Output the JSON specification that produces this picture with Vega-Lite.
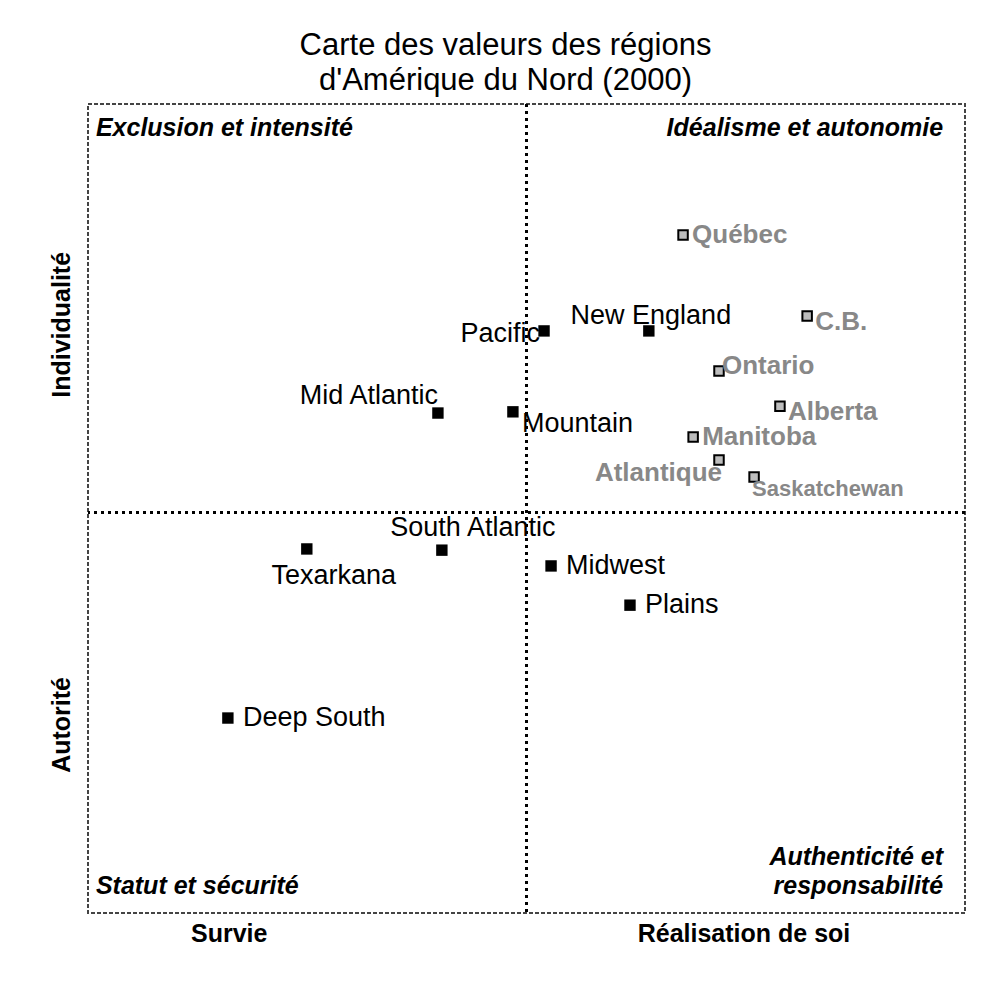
{
  "$schema": "https://vega.github.io/schema/vega-lite/v6.json",
  "width": 877,
  "height": 809,
  "autosize": {"type": "none"},
  "padding": {"left": 88, "top": 104, "right": 25, "bottom": 72},
  "background": "white",
  "title": {
    "text": ["Carte des valeurs des régions", "d'Amérique du Nord (2000)"],
    "anchor": "middle",
    "dx": -21,
    "offset": 6,
    "font": "Liberation Sans",
    "fontSize": 31,
    "fontWeight": "normal",
    "lineHeight": 35,
    "color": "black"
  },
  "config": {
    "view": {"stroke": "#444", "strokeDash": [4, 2], "strokeWidth": 2},
    "text": {"font": "Liberation Sans"}
  },
  "datasets": {
    "pts": [
      {"name": "Pacific", "x": 4.0, "y": 44.9, "group": "US"},
      {"name": "New England", "x": 27.9, "y": 44.9, "group": "US"},
      {"name": "Mid Atlantic", "x": -20.2, "y": 24.6, "group": "US"},
      {"name": "Mountain", "x": -3.1, "y": 24.9, "group": "US"},
      {"name": "South Atlantic", "x": -19.3, "y": -9.3, "group": "US"},
      {"name": "Texarkana", "x": -50.1, "y": -9.0, "group": "US"},
      {"name": "Midwest", "x": 5.6, "y": -13.2, "group": "US"},
      {"name": "Plains", "x": 23.6, "y": -22.9, "group": "US"},
      {"name": "Deep South", "x": -68.1, "y": -50.8, "group": "US"},
      {"name": "Québec", "x": 35.7, "y": 68.6, "group": "CA"},
      {"name": "C.B.", "x": 64.0, "y": 48.6, "group": "CA"},
      {"name": "Ontario", "x": 43.9, "y": 35.0, "group": "CA"},
      {"name": "Alberta", "x": 57.8, "y": 26.3, "group": "CA"},
      {"name": "Manitoba", "x": 38.0, "y": 18.7, "group": "CA"},
      {"name": "Atlantique", "x": 43.9, "y": 13.0, "group": "CA"},
      {"name": "Saskatchewan", "x": 51.9, "y": 8.8, "group": "CA"}
    ],
    "quad": [
      {"label": "Exclusion et intensité", "x": -98.2, "y": 95.1, "side": "L"},
      {"label": "Statut et sécurité", "x": -98.2, "y": -92.3, "side": "L"},
      {"label": "Idéalisme et autonomie", "x": 95.0, "y": 95.1, "side": "R"},
      {"label": "Authenticité et", "x": 95.0, "y": -85.2, "side": "R"},
      {"label": "responsabilité", "x": 95.0, "y": -92.3, "side": "R"}
    ],
    "axes": [
      {"label": "Survie", "x": -67.8, "y": -104.2, "dir": "h"},
      {"label": "Réalisation de soi", "x": 49.6, "y": -104.2, "dir": "h"},
      {"label": "Individualité", "x": -105.9, "y": 46.4, "dir": "v"},
      {"label": "Autorité", "x": -105.9, "y": -52.5, "dir": "v"}
    ]
  },
  "data": {"name": "pts"},
  "layer": [
    {
      "mark": {"type": "rule", "strokeDash": [3, 4], "strokeWidth": 2, "color": "black"},
      "encoding": {
        "x": {"datum": 0, "type": "quantitative", "scale": {"domain": [-100, 100], "nice": false, "zero": false}, "axis": null}
      }
    },
    {
      "mark": {"type": "rule", "strokeDash": [3, 4], "strokeWidth": 2, "color": "black"},
      "encoding": {
        "y": {"datum": 0, "type": "quantitative", "scale": {"domain": [-99, 101], "nice": false, "zero": false}, "axis": null}
      }
    },
    {
      "transform": [{"filter": "datum.group == 'US'"}],
      "mark": {"type": "square", "filled": true, "color": "black", "size": 130, "opacity": 1},
      "encoding": {
        "x": {"field": "x", "type": "quantitative", "axis": null},
        "y": {"field": "y", "type": "quantitative", "axis": null}
      }
    },
    {
      "transform": [{"filter": "datum.group == 'CA'"}],
      "mark": {"type": "square", "filled": true, "fill": "#bdbdbd", "stroke": "black", "strokeWidth": 2, "size": 90, "opacity": 1},
      "encoding": {
        "x": {"field": "x", "type": "quantitative", "axis": null},
        "y": {"field": "y", "type": "quantitative", "axis": null}
      }
    },
    {
      "transform": [{"filter": "indexof(['Midwest','Plains','Deep South'], datum.name) >= 0"}],
      "mark": {"type": "text", "align": "left", "baseline": "middle", "dx": 15, "fontSize": 27, "color": "black"},
      "encoding": {
        "x": {"field": "x", "type": "quantitative", "axis": null},
        "y": {"field": "y", "type": "quantitative", "axis": null},
        "text": {"field": "name"}
      }
    },
    {
      "transform": [{"filter": "datum.name == 'Mountain'"}],
      "mark": {"type": "text", "align": "left", "baseline": "middle", "dx": 9, "dy": 12, "fontSize": 27, "color": "black"},
      "encoding": {
        "x": {"field": "x", "type": "quantitative", "axis": null},
        "y": {"field": "y", "type": "quantitative", "axis": null},
        "text": {"field": "name"}
      }
    },
    {
      "transform": [{"filter": "datum.name == 'Pacific'"}],
      "mark": {"type": "text", "align": "right", "baseline": "middle", "dx": -4, "dy": 3, "fontSize": 27, "color": "black"},
      "encoding": {
        "x": {"field": "x", "type": "quantitative", "axis": null},
        "y": {"field": "y", "type": "quantitative", "axis": null},
        "text": {"field": "name"}
      }
    },
    {
      "transform": [{"filter": "datum.name == 'New England'"}],
      "mark": {"type": "text", "align": "center", "baseline": "middle", "dx": 2, "dy": -15, "fontSize": 27, "color": "black"},
      "encoding": {
        "x": {"field": "x", "type": "quantitative", "axis": null},
        "y": {"field": "y", "type": "quantitative", "axis": null},
        "text": {"field": "name"}
      }
    },
    {
      "transform": [{"filter": "datum.name == 'Mid Atlantic'"}],
      "mark": {"type": "text", "align": "right", "baseline": "middle", "dx": 0, "dy": -17, "fontSize": 27, "color": "black"},
      "encoding": {
        "x": {"field": "x", "type": "quantitative", "axis": null},
        "y": {"field": "y", "type": "quantitative", "axis": null},
        "text": {"field": "name"}
      }
    },
    {
      "transform": [{"filter": "datum.name == 'South Atlantic'"}],
      "mark": {"type": "text", "align": "center", "baseline": "middle", "dx": 31, "dy": -22, "fontSize": 27, "color": "black"},
      "encoding": {
        "x": {"field": "x", "type": "quantitative", "axis": null},
        "y": {"field": "y", "type": "quantitative", "axis": null},
        "text": {"field": "name"}
      }
    },
    {
      "transform": [{"filter": "datum.name == 'Texarkana'"}],
      "mark": {"type": "text", "align": "center", "baseline": "middle", "dx": 27, "dy": 27, "fontSize": 27, "color": "black"},
      "encoding": {
        "x": {"field": "x", "type": "quantitative", "axis": null},
        "y": {"field": "y", "type": "quantitative", "axis": null},
        "text": {"field": "name"}
      }
    },
    {
      "transform": [{"filter": "indexof(['Québec','Manitoba'], datum.name) >= 0"}],
      "mark": {"type": "text", "align": "left", "baseline": "middle", "dx": 9, "fontSize": 26, "fontWeight": "bold", "color": "#888888"},
      "encoding": {
        "x": {"field": "x", "type": "quantitative", "axis": null},
        "y": {"field": "y", "type": "quantitative", "axis": null},
        "text": {"field": "name"}
      }
    },
    {
      "transform": [{"filter": "indexof(['C.B.','Alberta'], datum.name) >= 0"}],
      "mark": {"type": "text", "align": "left", "baseline": "middle", "dx": 8, "dy": 6, "fontSize": 26, "fontWeight": "bold", "color": "#888888"},
      "encoding": {
        "x": {"field": "x", "type": "quantitative", "axis": null},
        "y": {"field": "y", "type": "quantitative", "axis": null},
        "text": {"field": "name"}
      }
    },
    {
      "transform": [{"filter": "datum.name == 'Ontario'"}],
      "mark": {"type": "text", "align": "left", "baseline": "middle", "dx": 3, "dy": -5, "fontSize": 26, "fontWeight": "bold", "color": "#888888"},
      "encoding": {
        "x": {"field": "x", "type": "quantitative", "axis": null},
        "y": {"field": "y", "type": "quantitative", "axis": null},
        "text": {"field": "name"}
      }
    },
    {
      "transform": [{"filter": "datum.name == 'Atlantique'"}],
      "mark": {"type": "text", "align": "right", "baseline": "middle", "dx": 3, "dy": 13, "fontSize": 26, "fontWeight": "bold", "color": "#888888"},
      "encoding": {
        "x": {"field": "x", "type": "quantitative", "axis": null},
        "y": {"field": "y", "type": "quantitative", "axis": null},
        "text": {"field": "name"}
      }
    },
    {
      "transform": [{"filter": "datum.name == 'Saskatchewan'"}],
      "mark": {"type": "text", "align": "left", "baseline": "middle", "dx": -2, "dy": 12, "fontSize": 22, "fontWeight": "bold", "color": "#888888"},
      "encoding": {
        "x": {"field": "x", "type": "quantitative", "axis": null},
        "y": {"field": "y", "type": "quantitative", "axis": null},
        "text": {"field": "name"}
      }
    },
    {
      "data": {"name": "quad"},
      "transform": [{"filter": "datum.side == 'L'"}],
      "mark": {"type": "text", "align": "left", "baseline": "middle", "fontSize": 25, "fontWeight": "bold", "fontStyle": "italic", "color": "black"},
      "encoding": {
        "x": {"field": "x", "type": "quantitative", "axis": null},
        "y": {"field": "y", "type": "quantitative", "axis": null},
        "text": {"field": "label"}
      }
    },
    {
      "data": {"name": "quad"},
      "transform": [{"filter": "datum.side == 'R'"}],
      "mark": {"type": "text", "align": "right", "baseline": "middle", "fontSize": 25, "fontWeight": "bold", "fontStyle": "italic", "color": "black"},
      "encoding": {
        "x": {"field": "x", "type": "quantitative", "axis": null},
        "y": {"field": "y", "type": "quantitative", "axis": null},
        "text": {"field": "label"}
      }
    },
    {
      "data": {"name": "axes"},
      "transform": [{"filter": "datum.dir == 'h'"}],
      "mark": {"type": "text", "align": "center", "baseline": "middle", "fontSize": 25, "fontWeight": "bold", "color": "black"},
      "encoding": {
        "x": {"field": "x", "type": "quantitative", "axis": null},
        "y": {"field": "y", "type": "quantitative", "axis": null},
        "text": {"field": "label"}
      }
    },
    {
      "data": {"name": "axes"},
      "transform": [{"filter": "datum.dir == 'v'"}],
      "mark": {"type": "text", "align": "center", "baseline": "middle", "angle": 270, "fontSize": 25, "fontWeight": "bold", "color": "black"},
      "encoding": {
        "x": {"field": "x", "type": "quantitative", "axis": null},
        "y": {"field": "y", "type": "quantitative", "axis": null},
        "text": {"field": "label"}
      }
    }
  ]
}
